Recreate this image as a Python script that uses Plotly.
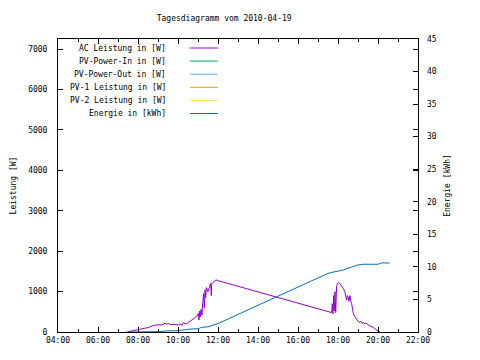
import plotly.graph_objects as go

DAY = "2010-04-19"
TITLE = "Tagesdiagramm vom 2010-04-19"

series_names = ["AC Leistung in [W]", "PV-Power-In in [W]", "PV-Power-Out in [W]",
                "PV-1 Leistung in [W]", "PV-2 Leistung in [W]", "Energie in [kWh]"]
series_colors = ["#9400d3", "#009e73", "#56b4e9", "#e69f00", "#f0e442", "#0072b2"]

ac_time = ["07:26", "07:40", "08:00", "08:15", "08:30", "08:46", "09:00", "09:10", "09:21", "09:25",
           "09:30", "09:40", "09:50", "10:01", "10:08", "10:12", "10:16", "10:25", "10:35", "10:46",
           "10:55", "11:01", "11:03", "11:05", "11:07", "11:09", "11:12", "11:14", "11:17", "11:19",
           "11:21", "11:23", "11:25", "11:30", "11:35", "11:38", "11:40", "11:41", "11:45", "11:51",
           "11:54", "12:00", "17:41", "17:43", "17:45", "17:47", "17:49", "17:51", "17:53", "17:56",
           "17:58", "18:02", "18:06", "18:11", "18:16", "18:21", "18:23", "18:26", "18:28", "18:31",
           "18:33", "18:36", "18:38", "18:41", "18:44", "18:46", "18:51", "18:56", "19:01", "19:05",
           "19:08", "19:12", "19:16", "19:21", "19:26", "19:31", "19:38", "19:46", "19:52", "19:58",
           "20:06"]
ac_watt = [0, 20, 50, 80, 110, 160, 180, 170, 215, 190,
           210, 180, 190, 170, 200, 160, 230, 200, 260, 310,
           380, 460, 300, 520, 380, 560, 420, 700, 950, 600,
           1040, 850, 1100, 1000, 1150, 1200, 900, 1200, 1230, 1260,
           1290, 1270, 480, 700, 450, 900, 520, 1000, 480, 1150,
           1200, 1220, 1200, 1130, 1080, 980, 850, 790, 900, 870,
           760, 900, 780, 700, 550, 460, 380, 300, 255, 240,
           270, 210, 240, 200, 220, 170, 150, 115, 70, 40,
           0]

energy_time = ["07:30", "08:00", "09:00", "09:20", "10:00", "10:36", "11:00", "11:10", "11:30", "12:00",
               "17:30", "17:45", "18:00", "18:15", "18:30", "18:45", "19:00", "19:15", "19:30", "20:00",
               "20:10", "20:35"]
energy_kwh = [0.0, 0.0, 0.05, 0.15, 0.2, 0.45, 0.5, 0.7, 0.8, 1.3,
              9.0, 9.2, 9.3, 9.5, 9.8, 10.1, 10.3, 10.4, 10.4, 10.4,
              10.6, 10.6]

pv_in_time, pv_in_watt = [], []
pv_out_time, pv_out_watt = [], []
pv1_time, pv1_watt = [], []
pv2_time, pv2_watt = [], []

x_ticks = ["04:00", "06:00", "08:00", "10:00", "12:00", "14:00", "16:00", "18:00", "20:00", "22:00"]
y_left_ticks = [0, 1000, 2000, 3000, 4000, 5000, 6000, 7000]
y_right_ticks = [0, 5, 10, 15, 20, 25, 30, 35, 40, 45]


def ts(t):
    return f"{DAY} {t}:00"


FONT = "DejaVu Sans Mono"
fig = go.Figure()

traces = [(ac_time, ac_watt, "y"), (pv_in_time, pv_in_watt, "y"), (pv_out_time, pv_out_watt, "y"),
          (pv1_time, pv1_watt, "y"), (pv2_time, pv2_watt, "y"), (energy_time, energy_kwh, "y2")]
for (t, v, ax), name, col in zip(traces, series_names, series_colors):
    fig.add_trace(go.Scatter(x=[ts(s) for s in t], y=v, mode="lines", name=name, yaxis=ax,
                             line=dict(color=col, width=1), showlegend=False))

# gnuplot-style key: right-aligned text then line sample
key_text_x = 0.306
key_line_x0, key_line_x1 = 0.367, 0.444
key_top_px, key_step_px, plot_h = 284, 13.1, 293
for i, (name, col) in enumerate(zip(series_names, series_colors)):
    yp = (key_top_px - i * key_step_px) / plot_h
    fig.add_annotation(x=key_text_x, y=yp, xref="paper", yref="paper", text=name, showarrow=False,
                       xanchor="right", yanchor="middle", font=dict(family=FONT, size=8, color="black"))
    fig.add_shape(type="line", xref="paper", yref="paper", x0=key_line_x0, x1=key_line_x1, y0=yp, y1=yp,
                  line=dict(color=col, width=1))

fig.update_layout(
    width=480, height=360,
    margin=dict(l=58, r=62, t=39, b=28),
    paper_bgcolor="white", plot_bgcolor="white",
    font=dict(family=FONT, size=8, color="black"),
    title=dict(text=TITLE, x=0.467, xref="container", xanchor="center", y=0.95, yanchor="middle",
               font=dict(family=FONT, size=8, color="black")),
    xaxis=dict(type="date", range=[ts("04:00"), ts("22:00")], automargin=False,
               tickvals=[ts(s) for s in x_ticks], ticktext=x_ticks,
               ticks="inside", ticklen=5, tickcolor="black", showgrid=False, zeroline=False,
               showline=True, linecolor="black", linewidth=1, mirror="ticks",
               minor=dict(ticks="inside", ticklen=3, dtick=3600000, tickcolor="black"),
               tickfont=dict(family=FONT, size=8)),
    yaxis=dict(range=[0, 7250], tickvals=y_left_ticks, ticks="inside", ticklen=5, tickcolor="black",
               showgrid=False, zeroline=False, showline=True, linecolor="black", linewidth=1,
               mirror="ticks", ticklabelstandoff=8, automargin=False,
               title=dict(text="Leistung [W]", standoff=10, font=dict(family=FONT, size=8)),
               tickfont=dict(family=FONT, size=8)),
    yaxis2=dict(range=[0, 45], tickvals=y_right_ticks, overlaying="y", side="right",
                ticks="inside", ticklen=5, tickcolor="black", showgrid=False, zeroline=False,
                showline=False, ticklabelstandoff=8, automargin=False,
                title=dict(text="Energie [kWh]", standoff=8, font=dict(family=FONT, size=8)),
                tickfont=dict(family=FONT, size=8)),
)

fig.write_html("out.html", config={"displayModeBar": False},
               post_script="document.body.style.margin='0px';")
